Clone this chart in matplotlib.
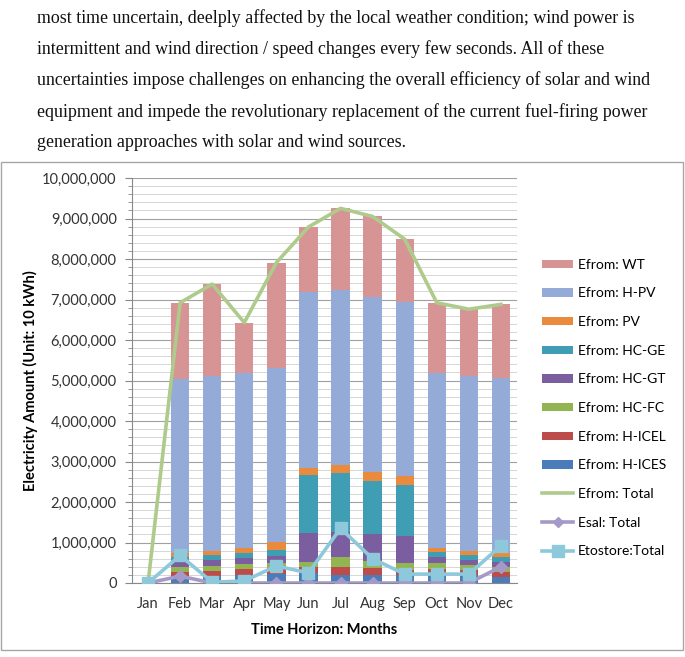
import numpy as np
import matplotlib
matplotlib.use('Agg')
import matplotlib.pyplot as plt
from matplotlib.patches import Rectangle, Patch
from matplotlib.lines import Line2D
from matplotlib.ticker import MultipleLocator, FuncFormatter

# months on the x axis
months = ['Jan', 'Feb', 'Mar', 'Apr', 'May', 'Jun', 'Jul', 'Aug', 'Sep', 'Oct', 'Nov', 'Dec']

# stacked bar segments (unit: 10 kWh), bottom to top
h_ices = [0, 150000, 170000, 200000, 220000, 240000, 200000, 200000, 200000, 220000, 200000, 160000]
h_icel = [0, 120000, 130000, 140000, 140000, 160000, 200000, 180000, 130000, 130000, 120000, 120000]
hc_fc = [0, 120000, 120000, 130000, 140000, 130000, 250000, 170000, 160000, 150000, 130000, 120000]
hc_gt = [0, 130000, 150000, 140000, 170000, 700000, 600000, 660000, 680000, 130000, 130000, 130000]
hc_ge = [0, 120000, 120000, 140000, 150000, 1430000, 1460000, 1310000, 1240000, 130000, 110000, 120000]
pv = [0, 90000, 100000, 120000, 190000, 190000, 210000, 220000, 240000, 110000, 100000, 100000]
h_pv = [0, 4310000, 4330000, 4320000, 4300000, 4340000, 4320000, 4320000, 4290000, 4320000, 4330000, 4320000]
wt = [0, 1880000, 2260000, 1240000, 2600000, 1600000, 2010000, 1990000, 1550000, 1730000, 1640000, 1810000]

# line series
efrom_total = [0, 6920000, 7380000, 6430000, 7910000, 8790000, 9250000, 9050000, 8490000, 6920000, 6760000, 6880000]
esal_total = [0, 170000, 0, 0, 0, 0, 0, 0, 0, 0, 0, 400000]
etostore_total = [0, 680000, 20000, 50000, 420000, 250000, 1350000, 600000, 220000, 220000, 220000, 920000]

paragraph = [
    'most time uncertain, deelply affected by the local weather condition; wind power is',
    'intermittent and wind direction / speed changes every few seconds. All of these',
    'uncertainties impose challenges on enhancing the overall efficiency of solar and wind',
    'equipment and impede the revolutionary replacement of the current fuel-firing power',
    'generation approaches with solar and wind sources.',
]

plt.rcParams['font.family'] = ['Lato', 'DejaVu Sans']

W, H = 685, 657
fig = plt.figure(figsize=(W / 100, H / 100), dpi=100)

# thesis text above the chart
for i, line in enumerate(paragraph):
    fig.text(37 / W, 1 - (18 + 31.2 * i) / H, line, family='Liberation Serif',
             fontsize=12.9, va='center', ha='left', color='#111111')

# chart frame
fig.patches.append(Rectangle((1 / W, 1 - 650 / H), 682 / W, 488 / H, transform=fig.transFigure,
                             fill=False, edgecolor='#A6A6A6', linewidth=1.0))

ax = fig.add_axes([132 / W, 1 - 583 / H, 385 / W, 405 / H])

stack = [
    ('Efrom: H-ICES', h_ices, '#4A7CBA'),
    ('Efrom: H-ICEL', h_icel, '#BC4B49'),
    ('Efrom: HC-FC', hc_fc, '#92B552'),
    ('Efrom: HC-GT', hc_gt, '#7B5E9F'),
    ('Efrom: HC-GE', hc_ge, '#3F9DB4'),
    ('Efrom: PV', pv, '#EA8A3D'),
    ('Efrom: H-PV', h_pv, '#93ABD6'),
    ('Efrom: WT', wt, '#D69495'),
]

x = np.arange(len(months))
bottom = np.zeros(len(months))
for name, vals, col in stack:
    ax.bar(x, vals, 0.57, bottom=bottom, color=col, zorder=2)
    bottom += np.array(vals)

ax.plot(x, efrom_total, color='#AECB8C', lw=2.6, zorder=3, solid_joinstyle='round')
ax.plot(x, esal_total, color='#A59AC7', lw=2.6, marker='D', ms=6, zorder=4)
ax.plot(x, etostore_total, color='#8DC9DB', lw=2.6, marker='s', ms=9, zorder=5)

ax.set_xlim(-0.5, 11.5)
ax.set_ylim(0, 10000000)
ax.yaxis.set_major_locator(MultipleLocator(1000000))
ax.yaxis.set_minor_locator(MultipleLocator(200000))
ax.yaxis.set_major_formatter(FuncFormatter(lambda v, p: f'{v:,.0f}'))
ax.grid(axis='y', which='major', color='#A0A0A0', lw=0.8, zorder=0)
ax.grid(axis='y', which='minor', color='#D6D6D6', lw=0.7, zorder=0)
ax.set_axisbelow(True)

ax.set_xticks(x)
ax.set_xticklabels(months)
ax.tick_params(axis='x', length=0, labelsize=10.5, pad=10, colors='#333333')
ax.tick_params(axis='y', which='major', length=5, color='#888888', labelsize=10.5, colors='#333333', pad=6)
ax.tick_params(axis='y', which='minor', length=3, color='#888888')
for s in ['top', 'right']:
    ax.spines[s].set_visible(False)
ax.spines['left'].set_color('#888888')
ax.spines['bottom'].set_color('#888888')

ax.set_ylabel('Electricity Amount (Unit: 10 kWh)', fontsize=10.5, fontweight='bold', labelpad=3)
ax.set_xlabel('Time Horizon: Months', fontsize=10.5, fontweight='bold', labelpad=9)

# legend: bars top-down, then lines
handles = [Patch(facecolor=col, label=name) for name, vals, col in reversed(stack)]
handles += [
    Line2D([], [], color='#AECB8C', lw=2.6, label='Efrom: Total'),
    Line2D([], [], color='#A59AC7', lw=2.6, marker='D', ms=5, label='Esal: Total'),
    Line2D([], [], color='#8DC9DB', lw=2.6, marker='s', ms=8, label='Etostore:Total'),
]
fig.legend(handles=handles, loc='center left', bbox_to_anchor=(542 / W, 1 - 408 / H),
           frameon=False, fontsize=10, handlelength=2.25, handleheight=0.55,
           handletextpad=0.35, labelspacing=1.2, borderpad=0, borderaxespad=0)

fig.savefig('out.png', dpi=100, facecolor='white')
